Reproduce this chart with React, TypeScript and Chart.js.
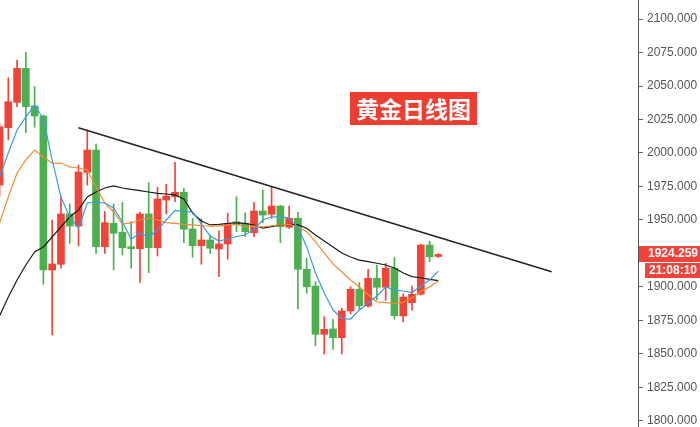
import React, { useEffect, useRef } from "react";
import { Chart, registerables } from "chart.js";

Chart.register(...registerables);

// Candles (daily gold), index 0..50
const opens = [1976.1, 2018.9, 2037.8, 2063.2, 2035.1, 2027.6, 1912.7, 1916.9, 1954.5, 1945.5, 1985.6, 2002.2, 1930.1, 1947.5, 1940.8, 1930.1, 1928.6, 1954.5, 1929.3, 1964.9, 1967.4, 1970.7, 1943.3, 1930.8, 1935.1, 1928.4, 1932.1, 1948.7, 1947.5, 1940.5, 1956.7, 1954.3, 1960.4, 1944.6, 1951.3, 1913.2, 1900.7, 1864.7, 1868.7, 1862.2, 1882.1, 1898.3, 1885.8, 1906.5, 1899.8, 1914.0, 1878.4, 1888.3, 1894.6, 1931.3, 1922.8];
const highs = [2022, 2056.2, 2069.4, 2075.1, 2049.5, 2028.5, 1950.0, 1967.4, 1962.0, 1991.0, 2017.2, 2006.7, 1956.2, 1962.0, 1963.2, 1948.7, 1956.0, 1977.8, 1974.4, 1976.6, 1993.1, 1973.7, 1951.3, 1950.7, 1938.8, 1942.0, 1955.0, 1967.4, 1955.4, 1963.2, 1972.4, 1974.4, 1961.0, 1960.4, 1955.7, 1921.4, 1904.0, 1877.8, 1875.9, 1884.1, 1900.2, 1903.2, 1913.2, 1916.4, 1917.7, 1922.2, 1895.0, 1900.7, 1932.0, 1934.3, 1925.0];
const lows = [1967.4, 2009.7, 2034.6, 2015.1, 2019.2, 1902.0, 1864.2, 1914.0, 1932.6, 1930.6, 1976.1, 1925.1, 1925.1, 1912.7, 1923.9, 1914.0, 1903.2, 1910.7, 1923.1, 1954.5, 1963.7, 1933.1, 1922.2, 1917.0, 1925.1, 1907.7, 1920.7, 1941.3, 1937.5, 1937.5, 1948.0, 1951.3, 1933.1, 1943.8, 1883.4, 1895.3, 1856.2, 1850.0, 1853.5, 1850.0, 1879.9, 1882.8, 1885.0, 1890.3, 1890.0, 1875.9, 1873.9, 1882.8, 1894.0, 1918.9, 1922.0];
const closes = [2019.6, 2038.3, 2063.2, 2034.6, 2027.6, 1912.7, 1917.2, 1954.5, 1945.5, 1985.8, 2002.2, 1930.1, 1948.0, 1940.1, 1929.3, 1928.6, 1954.5, 1929.3, 1965.7, 1967.9, 1970.7, 1943.1, 1930.8, 1935.1, 1928.9, 1932.1, 1947.0, 1946.3, 1941.3, 1956.7, 1953.7, 1960.4, 1945.0, 1951.3, 1913.2, 1900.2, 1864.7, 1868.4, 1862.2, 1882.1, 1898.3, 1886.1, 1906.5, 1899.8, 1914.0, 1878.6, 1892.5, 1894.6, 1931.3, 1922.6, 1924.259];

// Moving averages
const maBlue = [1982.1, 2000.0, 2017.2, 2026.9, 2035.8, 2025.4, 1994.8, 1967.2, 1952.2, 1944.0, 1962.7, 1963.4, 1962.7, 1959.0, 1948.5, 1935.8, 1940.3, 1937.3, 1942.5, 1950.0, 1957.1, 1956.2, 1956.0, 1947.0, 1938.1, 1934.3, 1935.8, 1937.7, 1938.8, 1943.1, 1950.0, 1952.2, 1952.5, 1951.5, 1944.6, 1929.9, 1910.4, 1895.5, 1882.8, 1876.5, 1876.1, 1882.8, 1888.1, 1893.3, 1900.0, 1897.8, 1897.0, 1895.9, 1900.7, 1905.2, 1911.9];
const maOrange = [1947.8, 1967.2, 1985.1, 1994.8, 2002.2, 1997.0, 1992.5, 1992.5, 1989.6, 1988.8, 1987.3, 1974.6, 1962.7, 1956.0, 1947.0, 1947.8, 1950.0, 1951.5, 1950.0, 1948.0, 1947.5, 1946.8, 1946.3, 1945.7, 1945.5, 1945.5, 1946.3, 1947.0, 1944.8, 1945.5, 1944.8, 1945.7, 1946.3, 1946.8, 1945.0, 1941.3, 1933.6, 1925.4, 1917.2, 1911.2, 1905.2, 1900.0, 1894.4, 1888.8, 1888.3, 1887.8, 1888.6, 1891.8, 1896.6, 1900.0, 1904.5];
const maBlack = [1878.4, 1892.5, 1905.2, 1916.4, 1926.1, 1929.9, 1937.3, 1944.8, 1952.2, 1957.5, 1967.2, 1970.9, 1973.9, 1975.4, 1973.9, 1972.8, 1971.9, 1970.9, 1969.9, 1969.4, 1968.7, 1965.7, 1955.2, 1949.3, 1946.3, 1946.8, 1947.5, 1947.8, 1947.5, 1946.3, 1944.0, 1945.0, 1946.3, 1946.8, 1946.3, 1943.8, 1938.8, 1934.3, 1929.9, 1925.4, 1922.4, 1920.1, 1918.9, 1917.7, 1916.4, 1914.2, 1910.4, 1907.8, 1906.9, 1905.7, 1904.7];

// Trend line endpoints (candle index, price)
const trendX = [8.98, 62.92];
const trendY = [2018.9, 1911.4];

const yTicks = [1800, 1825, 1850, 1875, 1900, 1925, 1950, 1975, 2000, 2025, 2050, 2075, 2100];
const titleText = "黄金日线图";
const lastPriceText = "1924.259";
const timeText = "21:08:10";

const RED = "#f0443a";
const GREEN = "#4caf50";

const overlayPlugin = {
  id: "overlay",
  afterDraw(chart: any) {
    const ctx = chart.ctx;
    const ys = chart.scales.y;
    ctx.save();
    // title box
    ctx.fillStyle = "#ee3d31";
    ctx.fillRect(350, 92, 127, 33);
    ctx.fillStyle = "#ffffff";
    ctx.font = "bold 23px 'Noto Sans CJK SC', sans-serif";
    ctx.textAlign = "center";
    ctx.textBaseline = "middle";
    ctx.fillText(titleText, 413.5, 109);
    // last price box
    const py = ys.getPixelForValue(closes[closes.length - 1]);
    ctx.fillStyle = RED;
    ctx.fillRect(639, Math.round(py) - 8, 61, 16);
    ctx.fillStyle = "#ffffff";
    ctx.font = "bold 12px 'Liberation Sans', Arial, sans-serif";
    ctx.fillText(lastPriceText, 673, Math.round(py));
    // time box
    ctx.fillStyle = RED;
    ctx.fillRect(645, 263, 55, 15);
    ctx.fillStyle = "#ffffff";
    ctx.fillText(timeText, 673, 271);
    ctx.restore();
  },
};

export default function App() {
  const ref = useRef<HTMLCanvasElement | null>(null);
  useEffect(() => {
    document.body.style.margin = "0";
    const canvas = ref.current;
    if (!canvas) return;
    const idx = opens.map((_, i) => i);
    const colors = idx.map((i) => (closes[i] >= opens[i] ? RED : GREEN));
    const chart = new Chart(canvas, {
      type: "bar",
      data: {
        datasets: [
          {
            type: "line",
            data: idx.map((i) => ({ x: i, y: maBlue[i] })),
            borderColor: "#3c9be0",
            borderWidth: 1.2,
            pointRadius: 0,
            tension: 0,
            order: 0,
          } as any,
          {
            type: "line",
            data: idx.map((i) => ({ x: i, y: maOrange[i] })),
            borderColor: "#f58a2e",
            borderWidth: 1.2,
            pointRadius: 0,
            tension: 0,
            order: 0,
          } as any,
          {
            type: "line",
            data: idx.map((i) => ({ x: i, y: maBlack[i] })),
            borderColor: "#1a1a1a",
            borderWidth: 1.2,
            pointRadius: 0,
            tension: 0,
            order: 0,
          } as any,
          {
            type: "line",
            data: trendX.map((x, k) => ({ x, y: trendY[k] })),
            borderColor: "#222222",
            borderWidth: 1.5,
            pointRadius: 0,
            tension: 0,
            order: 0,
          } as any,
          {
            type: "bar",
            data: idx.map((i) => ({ x: i, y: [opens[i], closes[i]] })),
            backgroundColor: colors,
            barThickness: 7,
            grouped: false,
            borderWidth: 0,
            order: 1,
          } as any,
          {
            type: "bar",
            data: idx.map((i) => ({ x: i, y: [lows[i], highs[i]] })),
            backgroundColor: colors,
            barThickness: 1,
            grouped: false,
            borderWidth: 0,
            order: 2,
          } as any,
        ],
      },
      options: {
        animation: false,
        responsive: false,
        maintainAspectRatio: false,
        layout: { padding: 0 },
        plugins: { legend: { display: false }, tooltip: { enabled: false } },
        scales: {
          x: {
            type: "linear",
            min: 0.0547,
            max: 72.75,
            offset: false,
            display: false,
          },
          y: {
            type: "linear",
            position: "right",
            min: 1795.52,
            max: 2114.18,
            afterBuildTicks: (s: any) => {
              s.ticks = yTicks.map((v) => ({ value: v }));
            },
            afterFit: (s: any) => {
              s.width = 62;
              s.paddingTop = 0;
              s.paddingBottom = 0;
            },
            grid: {
              display: true,
              drawOnChartArea: false,
              drawTicks: true,
              tickLength: 5,
              color: "#666666",
            },
            border: { display: true, color: "#555555", width: 1 },
            ticks: {
              autoSkip: false,
              padding: 4,
              color: "#555555",
              font: { family: "'Liberation Sans', Arial, sans-serif", size: 12 },
              callback: (v: any) => Number(v).toFixed(3),
            },
          },
        },
      } as any,
      plugins: [overlayPlugin],
    });
    return () => chart.destroy();
  }, []);
  return (
    <div style={{ width: 700, height: 427, position: "relative" }}>
      <canvas ref={ref} width={700} height={427} style={{ display: "block" }} />
    </div>
  );
}
